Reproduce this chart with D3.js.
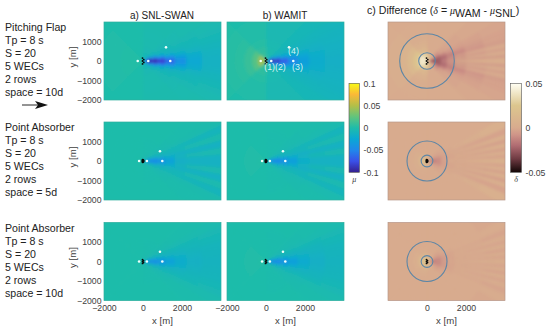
<!DOCTYPE html>
<html>
<head>
<meta charset="utf-8">
<script src="https://cdn.jsdelivr.net/npm/d3@7"></script>
<style>
  html, body { margin: 0; padding: 0; background: #fff; }
  svg { display: block; }
  text { font-family: "Liberation Sans", Arial, sans-serif; }
</style>
</head>
<body>
<svg id="chart" width="550" height="331"></svg>
<script>
// Tick labels
const xTicks = [-2000, 0, 2000];
const xTicksDiff = [0, 2000];
const yTicks = [-2000, -1000, 0, 1000];
const muTicks = [-100, -50, 0, 50, 100];
const deltaTicks = [-50, 0, 50];

// Row captions
const flapLabel = ['Pitching Flap', 'Tp = 8 s', 'S = 20', '5 WECs', '2 rows', 'space = 10d'];
const absorber5Label = ['Point Absorber', 'Tp = 8 s', 'S = 20', '5 WECs', '2 rows', 'space = 5d'];
const absorber10Label = ['Point Absorber', 'Tp = 8 s', 'S = 20', '5 WECs', '2 rows', 'space = 10d'];

// Polar bins around the array: radius in m, angle off the wake axis in degrees
const ringsMu = [0, 200, 400, 700, 1100, 1600, 2200, 3000, 6000];
const sectorsMu = [0, 5, 10, 15, 20, 25, 32, 45, 90, 135, 180];
const ringsDelta = [0, 200, 400, 700, 1000, 1400, 2000, 3000, 6000];
const sectorsDelta = [0, 2.5, 5, 7.5, 10, 13, 16, 19, 23, 30, 45, 90, 135, 180];

// mu x 1000, one row per ring
const muFlapSwan = [
  [-90, -90, -85, -75, -65, -50, -30, -10, 0, 2],
  [-95, -95, -90, -80, -65, -45, -22, -8, 0, 2],
  [-95, -90, -75, -55, -35, -20, -10, -5, 0, 2],
  [-85, -75, -50, -28, -15, -10, -6, -3, 0, 2],
  [-65, -50, -28, -14, -10, -7, -5, -3, 0, 1],
  [-42, -32, -18, -11, -8, -6, -4, -2, 0, 1],
  [-24, -20, -13, -9, -7, -5, -3, -2, 0, 0],
  [-14, -13, -10, -8, -6, -4, -2, -1, 0, 0]
];
const muFlapWamit = [
  [-95, -95, -90, -80, -70, -50, -25, 0, 14, 45],
  [-95, -95, -88, -75, -60, -38, -18, -3, 10, 42],
  [-90, -82, -65, -45, -30, -18, -10, -3, 6, 20],
  [-70, -60, -42, -25, -16, -12, -8, -4, 3, 9],
  [-50, -42, -30, -18, -13, -11, -8, -5, 1, 5],
  [-32, -28, -21, -15, -12, -10, -8, -5, 1, 3],
  [-20, -19, -16, -14, -12, -10, -8, -5, 0, 2],
  [-16, -15, -14, -13, -12, -10, -8, -5, 0, 2]
];
const muAbs5Swan = [
  [-50, -50, -45, -38, -25, -12, -5, -2, 0, 0],
  [-50, -48, -42, -32, -20, -10, -5, -2, 0, 0],
  [-48, -45, -36, -22, -12, -8, -4, -1, 0, 0],
  [-42, -36, -22, -12, -9, -6, -3, -1, 0, 0],
  [-30, -24, -14, -10, -8, -4, -2, 0, 0, 0],
  [-16, -12, -15, -8, -9, -3, -1, 0, 0, 0],
  [-14, -6, -14, -4, -10, -2, -1, 0, 0, 0],
  [-14, -4, -14, -3, -10, -2, -1, 0, 0, 0]
];
const muAbs5Wamit = [
  [-52, -52, -46, -38, -25, -12, -5, -1, 0, 2],
  [-52, -50, -44, -34, -20, -10, -5, -1, 0, 2],
  [-50, -46, -38, -24, -13, -8, -4, -1, 0, 1],
  [-44, -38, -24, -13, -10, -6, -3, -1, 0, 1],
  [-32, -26, -15, -11, -8, -5, -3, -1, 0, 0],
  [-18, -13, -16, -9, -10, -4, -2, 0, 0, 0],
  [-14, -7, -14, -5, -10, -3, -1, 0, 0, 0],
  [-14, -5, -14, -4, -10, -3, -1, 0, 0, 0]
];
const muAbs10Swan = [
  [-50, -48, -42, -34, -22, -12, -5, -2, 0, 0],
  [-50, -46, -38, -28, -18, -10, -5, -2, 0, 0],
  [-46, -42, -32, -20, -12, -8, -4, -1, 0, 0],
  [-40, -34, -22, -13, -10, -6, -3, -1, 0, 0],
  [-30, -24, -15, -11, -8, -5, -2, 0, 0, 0],
  [-20, -17, -13, -10, -8, -4, -1, 0, 0, 0],
  [-15, -13, -11, -9, -7, -3, -1, 0, 0, 0],
  [-12, -11, -10, -8, -6, -3, -1, 0, 0, 0]
];
const muAbs10Wamit = [
  [-55, -52, -46, -36, -24, -12, -5, -1, 0, 2],
  [-55, -50, -42, -30, -20, -10, -5, -1, 0, 2],
  [-50, -45, -34, -22, -13, -8, -4, -1, 0, 1],
  [-42, -36, -24, -14, -10, -6, -3, -1, 0, 1],
  [-32, -26, -16, -12, -9, -5, -3, -1, 0, 0],
  [-22, -18, -14, -11, -8, -4, -2, 0, 0, 0],
  [-16, -14, -12, -10, -7, -3, -1, 0, 0, 0],
  [-12, -11, -10, -8, -6, -3, -1, 0, 0, 0]
];

// delta x 1000
const deltaFlap = [
  [-35, -35, -32, -30, -28, -24, -18, -10, -4, 6, 18, 34, 40],
  [-32, -32, -30, -28, -26, -24, -20, -14, -8, 2, 12, 30, 40],
  [-22, -23, -24, -24, -24, -23, -22, -20, -16, -8, 0, 10, 22],
  [-14, -17, -15, -19, -20, -20, -19, -16, -10, -3, 0, 5, 13],
  [-4, -13, -5, -14, -9, -15, -14, -10, -6, -2, 0, 2, 7],
  [2, -10, 2, -11, -3, -12, -10, -8, -4, -2, 0, 1, 3],
  [4, -7, 3, -7, 0, -8, -6, -5, -3, -1, 0, 0, 1],
  [4, -5, 3, -4, 1, -5, -3, -3, -2, -1, 0, 0, 0]
];
const deltaAbs5 = [
  [-30, -30, -25, -20, -16, -14, -10, -8, -6, -2, 3, 14, 20],
  [-18, -18, -16, -14, -14, -12, -10, -8, -6, -3, 0, 5, 10],
  [-7, -9, -10, -10, -10, -9, -8, -6, -5, -2, 0, 1, 3],
  [-2, -3, -4, -4, -4, -4, -3, -3, -2, -1, 0, 0, 1],
  [0, -1, -1, -2, -2, -2, -1, -1, -1, 0, 0, 0, 0],
  [3, -3, 3, -3, 3, -3, 3, -2, 1, 0, 0, 0, 0],
  [5, -3, 5, -4, 5, -4, 5, -3, 3, 0, 0, 0, 0],
  [6, -3, 6, -4, 6, -4, 6, -3, 5, 0, 0, 0, 0]
];
const deltaAbs10 = [
  [-24, -24, -20, -16, -12, -8, -2, 2, 6, 10, 14, 20, 24],
  [-16, -16, -15, -14, -13, -12, -10, -8, -5, -1, 4, 10, 14],
  [-9, -10, -11, -11, -11, -10, -10, -8, -6, -3, 0, 2, 4],
  [-4, -5, -6, -6, -6, -6, -5, -4, -3, -1, 0, 0, 1],
  [-1, -2, -2, -2, -2, -2, -2, -2, -1, 0, 0, 0, 0],
  [2, -2, 2, -2, 1, -1, 0, -1, 0, 0, 0, 0, 0],
  [2, -2, 2, -2, 2, -2, 1, -1, 0, 0, 0, 0, 0],
  [2, -2, 3, -3, 3, -2, 2, -2, 1, -1, 0, 0, 0]
];

// Circles in the difference panels, radius in m
const circlesFlap = [425, 1400];
const circlesAbs = [300, 1025];

// Observation points (white) and device layouts (black), in m
const pointX = [-270, 270, 1400, 1180];
const pointY = [0, 0, 0, 700];
const pointXAbs = [-200, 200, 990, 870];
const pointYAbs = [0, 0, 0, 500];
const wecX10 = [-25, -25, -25, 40, 40];
const wecY10 = [-150, 0, 150, -75, 75];
const wecX5 = [-15, -15, -15, 15, 15];
const wecY5 = [-50, 0, 50, -25, 25];
const wecXAbs10 = [-25, -25, -25, 25, 25];
const wecYAbs10 = [-100, 0, 100, -50, 50];

const muColor = d3.scaleLinear()
  .domain([-100, -75, -50, -25, 0, 25, 50, 75, 100])
  .range(['#35208f', '#3a50e8', '#2088ea', '#0aa8d4', '#1fbcaa', '#62c47c', '#b4bf48', '#fbb937', '#f8fa14']);
const deltaColor = d3.scaleLinear()
  .domain([-50, -35, -20, -8, 0, 25, 50])
  .range(['#120606', '#6e3a42', '#b06c72', '#cf9488', '#d8ab8e', '#dcc68e', '#fffff4']);

const svg = d3.select('#chart');
const defs = svg.append('defs');
defs.append('filter').attr('id', 'soft')
  .append('feGaussianBlur').attr('stdDeviation', 1.4);

const panelW = 117;
const panelH = 78;
const colLeft = [104, 227, 388];
const rowTop = [22, 122, 222.5];
const tickColor = '#404040';

const radius = d3.scaleLinear().domain([0, 6000]).range([0, panelW]);
const arcAngle = d3.scaleLinear().domain([0, 180]).range([Math.PI / 2, -Math.PI / 2]);
const arc = d3.arc();

let clipId = 0;

function drawField(left, top, values, rings, sectors, color, circles, points, wecs, wecR) {
  const x = d3.scaleLinear().domain([-2000, 4000]).range([left, left + panelW]);
  const y = d3.scaleLinear().domain([-2000, 2000]).range([top + panelH, top]);

  const id = 'clip' + (clipId++);
  defs.append('clipPath').attr('id', id).append('rect')
    .attr('x', left).attr('y', top).attr('width', panelW).attr('height', panelH);

  const panel = svg.append('g').attr('clip-path', `url(#${id})`);
  panel.append('rect')
    .attr('x', left).attr('y', top).attr('width', panelW).attr('height', panelH)
    .attr('fill', color(0));
  const field = panel.append('g').attr('filter', 'url(#soft)')
    .attr('transform', `translate(${x(0)},${y(0)})`);

  // outer rings first so the inner ones sit on top of the seams
  values.map((row, i) => [row, i]).reverse().forEach(([row, i]) => {
    row.forEach((v, j) => {
      [1, -1].forEach(side => {
        const a0 = Math.PI / 2 - side * (Math.PI / 2 - arcAngle(sectors[j]));
        const a1 = Math.PI / 2 - side * (Math.PI / 2 - arcAngle(sectors[j + 1]));
        field.append('path')
          .attr('d', arc({
            innerRadius: radius(rings[i]),
            outerRadius: radius(rings[i + 1]),
            startAngle: a0,
            endAngle: a1
          }))
          .attr('fill', color(v))
          .attr('stroke', color(v))
          .attr('stroke-width', 0.8);
      });
    });
  });

  if (circles) {
    panel.selectAll(null).data(circles).enter().append('circle')
      .attr('cx', x(0)).attr('cy', y(0))
      .attr('r', d => radius(d))
      .attr('fill', 'none')
      .attr('stroke', '#5d86a6')
      .attr('stroke-width', 1.1);
  }

  if (points) {
    panel.selectAll(null).data(points[0]).enter().append('circle')
      .attr('cx', d => x(d))
      .attr('cy', (d, i) => y(points[1][i]))
      .attr('r', 1.3)
      .attr('fill', '#eefffb');
  }

  panel.selectAll(null).data(wecs[0]).enter().append('circle')
    .attr('cx', d => x(d))
    .attr('cy', (d, i) => y(wecs[1][i]))
    .attr('r', wecR)
    .attr('fill', '#0a0a0a');

  svg.append('rect')
    .attr('x', left).attr('y', top).attr('width', panelW).attr('height', panelH)
    .attr('fill', 'none')
    .attr('stroke', circles ? '#b7988a' : '#2fae9e')
    .attr('stroke-width', 0.7);

  return { x, y };
}

function tickText(g) {
  g.select('.domain').remove();
  g.selectAll('line').remove();
  g.selectAll('text').attr('font-size', 8.7).attr('fill', tickColor)
    .style('font-family', '"Liberation Sans", Arial, sans-serif');
}

const rows = [
  {
    mu: [muFlapSwan, muFlapWamit], delta: deltaFlap, circles: circlesFlap,
    points: [pointX, pointY], wecs: [wecX10, wecY10], wecR: 0.9, label: flapLabel, textTop: 27
  },
  {
    mu: [muAbs5Swan, muAbs5Wamit], delta: deltaAbs5, circles: circlesAbs,
    points: [pointXAbs, pointYAbs], wecs: [wecX5, wecY5], wecR: 1.2, label: absorber5Label, textTop: 127
  },
  {
    mu: [muAbs10Swan, muAbs10Wamit], delta: deltaAbs10, circles: circlesAbs,
    points: [pointXAbs, pointYAbs], wecs: [wecXAbs10, wecYAbs10], wecR: 0.9, label: absorber10Label, textTop: 228
  }
];

rows.forEach((r, ri) => {
  const top = rowTop[ri];
  const scalesA = drawField(colLeft[0], top, r.mu[0], ringsMu, sectorsMu, muColor, null, r.points, r.wecs, r.wecR);
  const scalesB = drawField(colLeft[1], top, r.mu[1], ringsMu, sectorsMu, muColor, null, r.points, r.wecs, r.wecR);
  const scalesC = drawField(colLeft[2], top, r.delta, ringsDelta, sectorsDelta, deltaColor, r.circles, null, r.wecs, r.wecR);

  // y axis on the first column only
  svg.append('g')
    .attr('transform', `translate(${colLeft[0]},0)`)
    .call(d3.axisLeft(scalesA.y).tickValues(yTicks).tickSize(0).tickPadding(2.5).tickFormat(d3.format('d')))
    .call(tickText);

  svg.append('text')
    .attr('transform', `translate(76,${top + 35}) rotate(-90)`)
    .attr('text-anchor', 'middle')
    .attr('font-size', 9.6).attr('fill', tickColor)
    .text('y [m]');

  // caption at the left
  svg.selectAll(null).data(r.label).enter().append('text')
    .attr('x', 5)
    .attr('y', (d, i) => r.textTop + 3.7 + i * 13)
    .attr('font-size', 10.6).attr('fill', '#222')
    .text(d => d);

  if (ri === 2) {
    [[scalesA, xTicks], [scalesB, xTicks], [scalesC, xTicksDiff]].forEach(([s, ticks]) => {
      svg.append('g')
        .attr('transform', `translate(0,${top + panelH})`)
        .call(d3.axisBottom(s.x).tickValues(ticks).tickSize(0).tickPadding(4.5).tickFormat(d3.format('d')))
        .call(tickText);
      svg.append('text')
        .attr('x', s.x(1000))
        .attr('y', 324)
        .attr('text-anchor', 'middle')
        .attr('font-size', 9.6).attr('fill', tickColor)
        .text('x [m]');
    });
  }
});

// Column titles
svg.append('text').attr('x', 162).attr('y', 19).attr('text-anchor', 'middle')
  .attr('font-size', 10).attr('fill', '#222').text('a) SNL-SWAN');
svg.append('text').attr('x', 285).attr('y', 19).attr('text-anchor', 'middle')
  .attr('font-size', 10).attr('fill', '#222').text('b) WAMIT');

const diffTitle = svg.append('text').attr('x', 367).attr('y', 14)
  .attr('font-size', 10.6).attr('fill', '#222');
diffTitle.append('tspan').text('c) Difference (');
diffTitle.append('tspan').attr('font-style', 'italic').style('font-family', '"Liberation Serif", serif').attr('font-size', 10).text('\u03b4');
diffTitle.append('tspan').text(' = ');
diffTitle.append('tspan').attr('font-style', 'italic').style('font-family', '"Liberation Serif", serif').attr('font-size', 10).text('\u03bc');
diffTitle.append('tspan').attr('dy', 3).text('WAM');
diffTitle.append('tspan').attr('dy', -3).text(' - ');
diffTitle.append('tspan').attr('font-style', 'italic').style('font-family', '"Liberation Serif", serif').attr('font-size', 10).text('\u03bc');
diffTitle.append('tspan').attr('dy', 3).text('SNL');
diffTitle.append('tspan').attr('dy', -3).text(')');

// Wave direction arrow
svg.append('line').attr('x1', 22).attr('x2', 42).attr('y1', 105).attr('y2', 105)
  .attr('stroke', '#111').attr('stroke-width', 0.9);
svg.append('path').attr('d', 'M35,101 L48,105 L35,109 L38,105 Z').attr('fill', '#111');

// Labels of the observation points on the WAMIT panel
const pointNotes = [['(1)(2)', 275, 70], ['(3)', 297.5, 70], ['(4)', 293.5, 54]];
svg.selectAll(null).data(pointNotes).enter().append('text')
  .attr('x', d => d[1]).attr('y', d => d[2])
  .attr('text-anchor', 'middle')
  .attr('font-size', 8.8).attr('fill', '#d6f3f0')
  .text(d => d[0]);

// Colour bars
function drawColorbar(left, width, domain, color, ticks, fmt, symbol) {
  const barY = d3.scaleLinear().domain(domain).range([172.3, 83.3]);
  const id = 'grad' + left;
  const grad = defs.append('linearGradient').attr('id', id)
    .attr('x1', 0).attr('x2', 0).attr('y1', 1).attr('y2', 0);
  color.domain().forEach(d => {
    grad.append('stop')
      .attr('offset', (d - domain[0]) / (domain[1] - domain[0]))
      .attr('stop-color', color(d));
  });
  svg.append('rect')
    .attr('x', left).attr('y', barY(domain[1]))
    .attr('width', width).attr('height', barY(domain[0]) - barY(domain[1]))
    .attr('fill', `url(#${id})`)
    .attr('stroke', '#555').attr('stroke-width', 0.6);
  svg.append('g')
    .attr('transform', `translate(${left + width},0)`)
    .call(d3.axisRight(barY).tickValues(ticks).tickSize(0).tickPadding(4).tickFormat(fmt))
    .call(tickText);
  svg.append('text')
    .attr('x', left + width / 2).attr('y', barY(domain[0]) + 9.5)
    .attr('text-anchor', 'middle')
    .attr('font-size', 8).attr('font-style', 'italic').attr('fill', tickColor)
    .style('font-family', '"Liberation Serif", serif')
    .text(symbol);
}

const thousandths = d => String(d / 1000);
drawColorbar(349, 10.5, [-100, 100], muColor, muTicks, thousandths, '\u03bc');
drawColorbar(510.5, 11, [-50, 50], deltaColor, deltaTicks, thousandths, '\u03b4');
</script>
</body>
</html>
